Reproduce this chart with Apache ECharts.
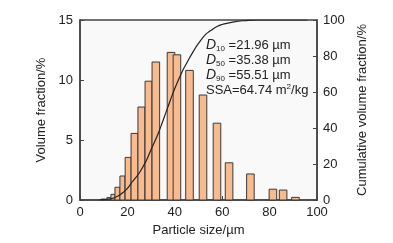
<!DOCTYPE html>
<html>
<head>
<meta charset="utf-8">
<script src="https://cdn.jsdelivr.net/npm/echarts@6/dist/echarts.min.js"></script>
<style>
  html, body { margin: 0; padding: 0; background: #fff; }
  #main { width: 393px; height: 243px; }
</style>
</head>
<body>
<div id="main"></div>
<script>
// histogram bins: centre size (µm), bin width (µm), volume fraction (%)
var sizes = [9.7, 12.2, 13.9, 15.8, 17.9, 20.3, 23.0, 25.9, 28.9, 32.0, 38.4, 40.9, 46.2, 51.9, 57.8, 62.9, 71.9, 81.4, 85.7, 90.9];
var binWidths = [1.5, 1.7, 1.7, 2.1, 2.1, 2.5, 2.9, 2.9, 2.9, 3.2, 3.2, 3.2, 3.2, 3.2, 3.2, 3.2, 3.2, 3.2, 3.2, 3.2];
var fractions = [0.08, 0.2, 0.47, 1.06, 2.0, 3.55, 5.55, 7.75, 9.9, 11.5, 12.3, 12.1, 10.8, 8.75, 6.4, 3.1, 2.17, 0.9, 0.83, 0.22];

// cumulative curve
var cumSizes = [8, 12, 15, 18, 20, 22, 25, 28, 30, 33, 35, 38, 40, 43, 45, 48, 50, 53, 55, 58, 60, 65, 70, 75, 85, 96];
var cumValues = [0, 0.5, 1.5, 4, 6.5, 10, 15, 22, 28, 37, 44, 55, 62, 71, 76, 83, 87, 92, 94, 96.5, 97.5, 99, 99.7, 100, 100, 100];

var xTicks = [0, 20, 40, 60, 80, 100];
var leftTicks = [0, 5, 10, 15];
var rightTicks = [0, 20, 40, 60, 80, 100];

var barData = sizes.map(function (s, i) { return [s, fractions[i], binWidths[i]]; });
var cumData = cumSizes.map(function (s, i) { return [s, cumValues[i]]; });

var font = 'Liberation Sans, Arial, sans-serif';
var axisColor = '#444';
var textColor = '#222';

var myChart = echarts.init(document.getElementById('main'));
var option = {
    backgroundColor: '#fff',
    animation: false,
    textStyle: { fontFamily: font },
    grid: {
        left: 80, right: 76, top: 20, bottom: 43,
        show: true, backgroundColor: '#f9f9f9', borderColor: axisColor, borderWidth: 1.5
    },
    xAxis: {
        type: 'value', min: xTicks[0], max: xTicks[xTicks.length - 1], interval: 20,
        name: 'Particle size/µm', nameLocation: 'middle', nameGap: 18,
        nameTextStyle: { fontSize: 13, color: textColor, fontFamily: font },
        axisLine: { lineStyle: { color: axisColor, width: 1.5 } },
        axisTick: { inside: true, length: 4, lineStyle: { color: axisColor } },
        axisLabel: { fontSize: 13, color: textColor, margin: 6, fontFamily: font },
        splitLine: { show: false }
    },
    yAxis: [{
        type: 'value', min: leftTicks[0], max: leftTicks[leftTicks.length - 1], interval: 5,
        name: 'Volume fraction/%', nameLocation: 'middle', nameGap: 22, nameRotate: 90,
        nameTextStyle: { fontSize: 13, color: textColor, fontFamily: font },
        axisLine: { show: true, lineStyle: { color: axisColor, width: 1.5 } },
        axisTick: { show: true, inside: true, length: 4, lineStyle: { color: axisColor } },
        axisLabel: { fontSize: 13, color: textColor, margin: 7, fontFamily: font },
        splitLine: { show: false }
    }, {
        type: 'value', min: rightTicks[0], max: rightTicks[rightTicks.length - 1], interval: 20,
        position: 'right',
        name: 'Cumulative volume fraction/%', nameLocation: 'middle', nameGap: 30, nameRotate: 90,
        nameTextStyle: { fontSize: 13, color: textColor, fontFamily: font },
        axisLine: { show: true, lineStyle: { color: axisColor, width: 1.5 } },
        axisTick: { show: true, inside: true, length: 4, lineStyle: { color: axisColor } },
        axisLabel: { fontSize: 13, color: textColor, margin: 6, fontFamily: font },
        splitLine: { show: false }
    }],
    series: [{
        type: 'custom',
        xAxisIndex: 0, yAxisIndex: 0,
        encode: { x: 0, y: 1 },
        data: barData,
        renderItem: function (params, api) {
            var x = api.value(0), y = api.value(1), w = api.value(2);
            var p0 = api.coord([x - w / 2, y]);
            var p1 = api.coord([x + w / 2, 0]);
            return {
                type: 'rect',
                shape: { x: p0[0], y: p0[1], width: p1[0] - p0[0], height: p1[1] - p0[1] },
                style: { fill: '#f8bb90', stroke: '#3a3a3a', lineWidth: 1 }
            };
        },
        z: 2
    }, {
        type: 'line',
        yAxisIndex: 1,
        data: cumData,
        smooth: true,
        showSymbol: false,
        lineStyle: { color: '#222', width: 1.2 },
        z: 3
    }],
    graphic: [{
        type: 'text', left: 206, top: 38, z: 10,
        style: {
            text: '{d|D}{s|10}{t| =21.96 µm}\n{d|D}{s|50}{t| =35.38 µm}\n{d|D}{s|90}{t| =55.51 µm}\n{t|SSA=64.74 m}{p|2}{t|/kg}',
            fill: textColor,
            rich: {
                d: { fontFamily: font, fontSize: 14, fontStyle: 'italic', lineHeight: 15, fill: textColor },
                s: { fontFamily: font, fontSize: 8, lineHeight: 15, padding: [7, 0, 0, 0], fill: textColor },
                t: { fontFamily: font, fontSize: 13, lineHeight: 15, fill: textColor },
                p: { fontFamily: font, fontSize: 8, lineHeight: 15, padding: [0, 0, 7, 0], fill: textColor }
            }
        }
    }]
};
myChart.setOption(option);
</script>
</body>
</html>
